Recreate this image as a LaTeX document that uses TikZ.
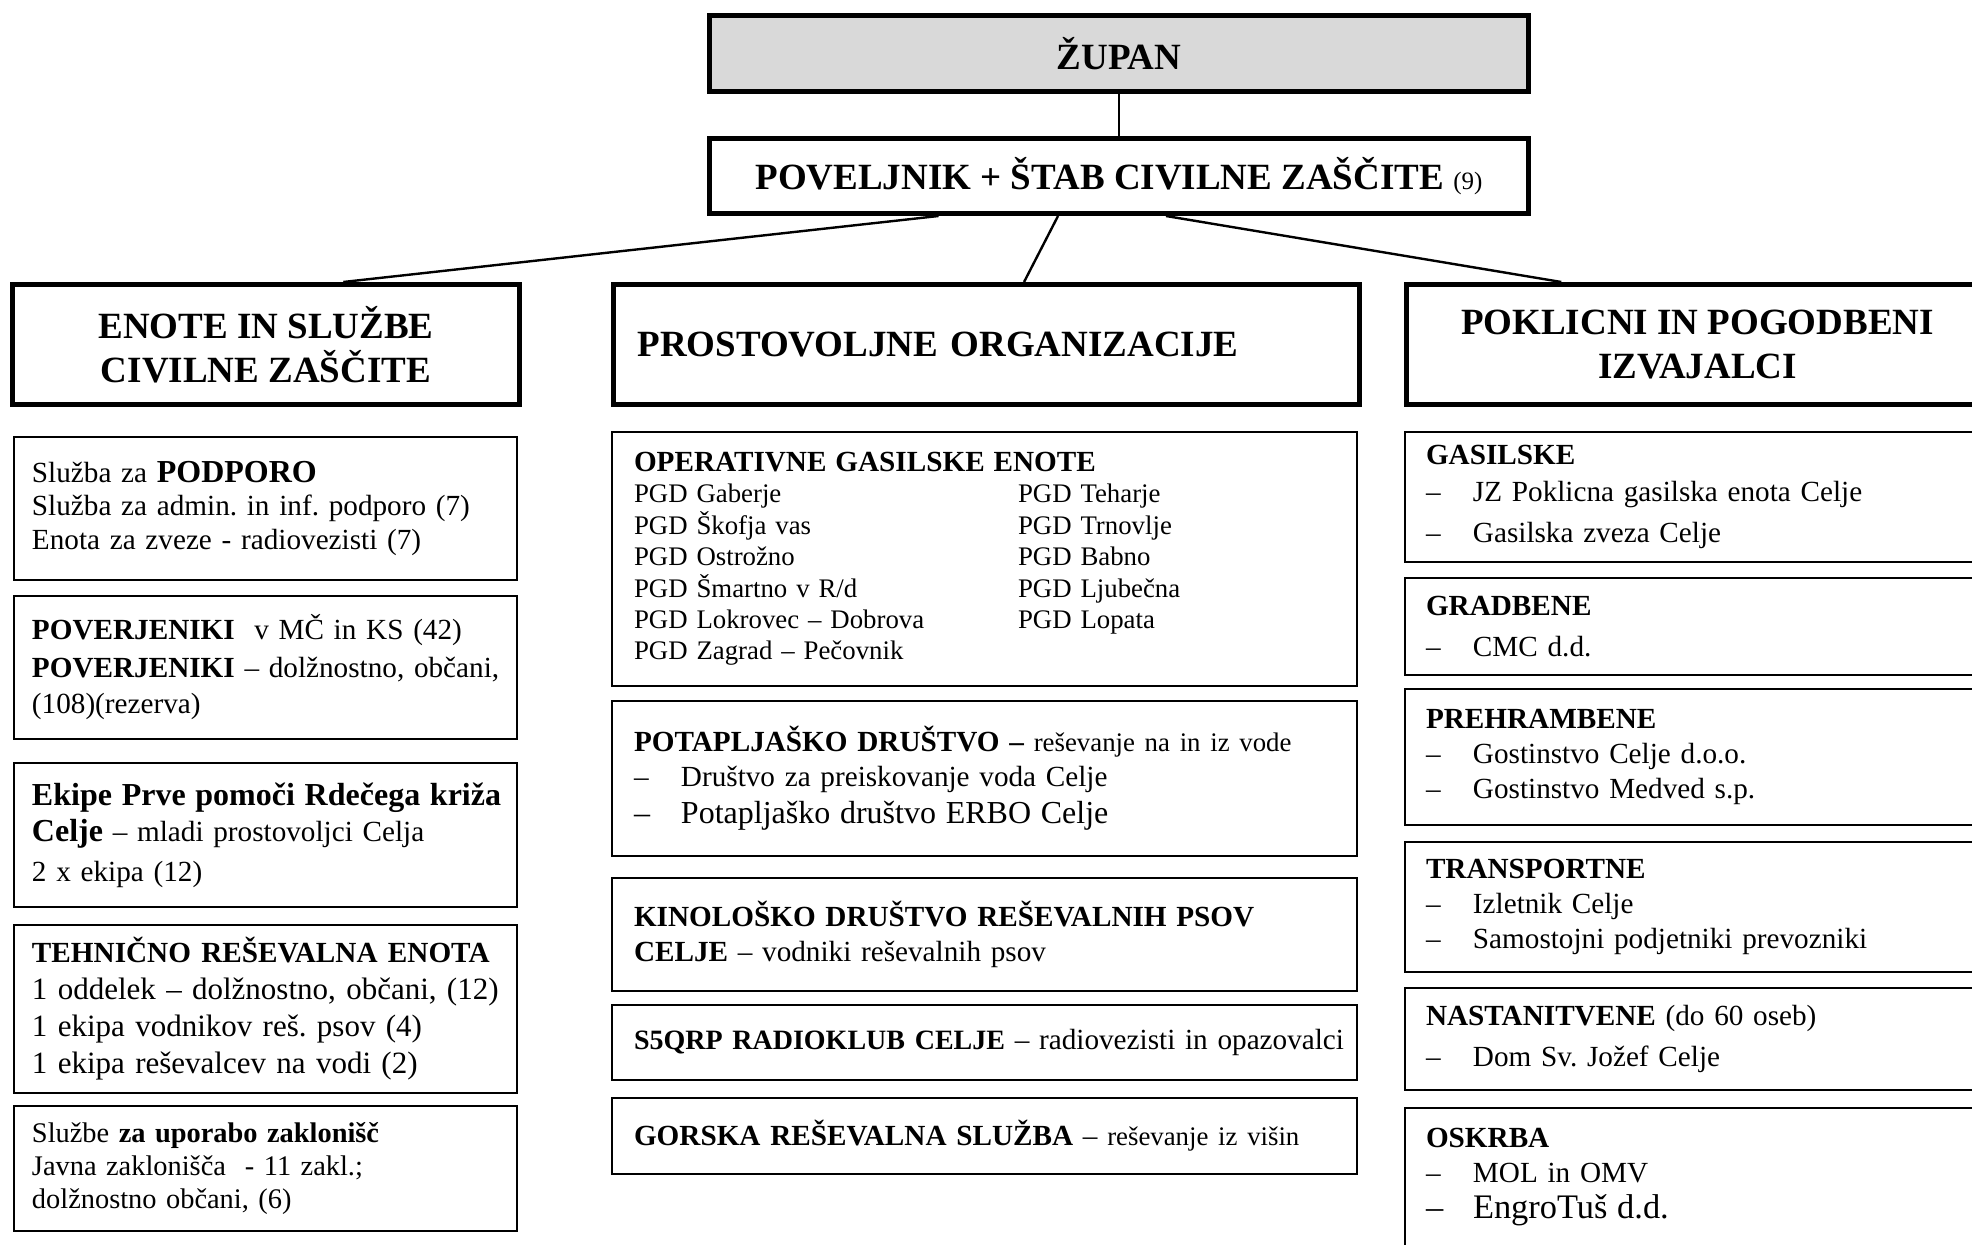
\documentclass[tikz,border=0pt]{standalone}
\usepackage{fontspec}
\setmainfont{Liberation Serif}
\usetikzlibrary{calc}
\frenchspacing

\definecolor{siva}{HTML}{D9D9D9}
\newcommand\veliko{\fontsize{16pt}{19pt}\selectfont}
\newcommand\malo{\fontsize{13.4pt}{15.7pt}\selectfont}
\newcommand\alin[1]{\makebox[23.5pt][l]{–}#1}
\newcommand\dvastolp[1]{\makebox[192pt][l]{#1}}

\tikzset{
  glava/.style={draw, line width=2.5pt, anchor=north west, inner sep=0pt,
    font=\fontsize{18.5pt}{22pt}\selectfont\bfseries},
  okvir/.style={draw, line width=1pt, anchor=north west, align=left, inner ysep=2pt,
    font=\fontsize{14.6pt}{16.7pt}\selectfont},
  levo/.style={okvir, inner xsep=9pt, text width=233.5pt},
  sredina/.style={okvir, inner xsep=11pt, text width=350.5pt},
  desno/.style={okvir, inner xsep=10.5pt, text width=270pt,
    font=\fontsize{14.6pt}{17.6pt}\selectfont},
  vez/.style={line width=1.2pt}
}

\begin{document}
\begin{tikzpicture}[x=0.5pt, y=-0.5pt]
\useasboundingbox (0,0) rectangle (1972,1245);
\clip (0,0) rectangle (1972,1245);

\node[glava, fill=siva, minimum width=409.5pt, minimum height=38pt] (zupan) at (707,13) {ŽUPAN};
\node[glava, minimum width=409.5pt, minimum height=37.5pt] (poveljnik) at (707,136)
  {POVELJNIK + ŠTAB CIVILNE ZAŠČITE {\fontsize{12.5pt}{14pt}\selectfont\mdseries (9)}};

\node[glava, minimum width=253.5pt, minimum height=60pt, align=center] (enote) at (10,282)
  {ENOTE IN SLUŽBE\\CIVILNE ZAŠČITE};
\node[glava, minimum height=60pt, inner xsep=12pt, text width=349pt, align=left] (prostovoljne) at (611,282)
  {PROSTOVOLJNE ORGANIZACIJE};
\node[glava, minimum width=291pt, minimum height=60pt, align=center] (poklicni) at (1404,282)
  {POKLICNI IN POGODBENI\\IZVAJALCI};

\draw[vez] (zupan) -- (poveljnik);
\draw[vez] ($(poveljnik.south west)!0.281!(poveljnik.south east)$) -- ($(enote.north west)!0.651!(enote.north east)$);
\draw[vez] ($(poveljnik.south west)!0.426!(poveljnik.south east)$) -- ($(prostovoljne.north west)!0.55!(prostovoljne.north east)$);
\draw[vez] ($(poveljnik.south west)!0.557!(poveljnik.south east)$) -- ($(poklicni.north west)!0.268!(poklicni.north east)$);

% enote in sluzbe
\node[levo, minimum height=71.5pt] (l1) at (13,436)
  {Služba za {\veliko\bfseries PODPORO}\\
   Služba za admin. in inf. podporo (7)\\
   Enota za zveze - radiovezisti (7)};
\node[levo, minimum height=71.5pt, font=\fontsize{14.6pt}{18pt}\selectfont] (l2) at (13,595)
  {\textbf{POVERJENIKI}\ \ v MČ in KS (42)\\[1pt]
   \mbox{\textbf{POVERJENIKI} – dolžnostno, občani,}\\
   (108)(rezerva)};
\node[levo, minimum height=72pt, font=\fontsize{14.6pt}{18pt}\selectfont] (l3) at (13,762)
  {\mbox{\veliko\bfseries Ekipe Prve pomoči Rdečega križa}\\
   {\veliko\bfseries Celje} – mladi prostovoljci Celja\\[2pt]
   2 x ekipa (12)};
\node[levo, minimum height=84pt, font=\fontsize{15.5pt}{18.5pt}\selectfont] (l4) at (13,924)
  {{\fontsize{14.6pt}{18pt}\selectfont\bfseries TEHNIČNO REŠEVALNA ENOTA}\\
   \mbox{1 oddelek – dolžnostno, občani, (12)}\\
   1 ekipa vodnikov reš. psov (4)\\
   1 ekipa reševalcev na vodi (2)};
\node[levo, minimum height=62.5pt, font=\fontsize{14.2pt}{16.4pt}\selectfont] (l5) at (13,1105)
  {Službe \textbf{za uporabo zaklonišč}\\
   Javna zaklonišča\ \ - 11 zakl.;\\
   dolžnostno občani, (6)};

% prostovoljne organizacije
\node[sredina, minimum height=127pt, font=\malo] (m1) at (611,431)
  {{\fontsize{14.6pt}{15.7pt}\selectfont\bfseries OPERATIVNE GASILSKE ENOTE}\\
   \dvastolp{PGD Gaberje}PGD Teharje\\
   \dvastolp{PGD Škofja vas}PGD Trnovlje\\
   \dvastolp{PGD Ostrožno}PGD Babno\\
   \dvastolp{PGD Šmartno v R/d}PGD Ljubečna\\
   \dvastolp{PGD Lokrovec – Dobrova}PGD Lopata\\
   PGD Zagrad – Pečovnik};
\node[sredina, minimum height=77.5pt, font=\fontsize{14.6pt}{17.5pt}\selectfont] (m2) at (611,700)
  {\mbox{\textbf{POTAPLJAŠKO DRUŠTVO –} {\malo reševanje na in iz vode}}\\
   \alin{Društvo za preiskovanje voda Celje}\\[1pt]
   {\veliko\alin{Potapljaško društvo ERBO Celje}}};
\node[sredina, minimum height=56.5pt, font=\fontsize{14.6pt}{17.6pt}\selectfont] (m3) at (611,877)
  {\textbf{KINOLOŠKO DRUŠTVO REŠEVALNIH PSOV}\\
   \textbf{CELJE} – vodniki reševalnih psov};
\node[sredina, minimum height=37.5pt] (m4) at (611,1004)
  {\mbox{{\fontsize{14pt}{16.7pt}\selectfont\bfseries S5QRP RADIOKLUB CELJE} – radiovezisti in opazovalci}};
\node[sredina, minimum height=38pt] (m5) at (611,1097)
  {\textbf{GORSKA REŠEVALNA SLUŽBA} – {\malo reševanje iz višin}};

% poklicni in pogodbeni izvajalci
\node[desno, minimum height=65pt] (r1) at (1404,431)
  {\textbf{GASILSKE}\\[1pt]
   \alin{JZ Poklicna gasilska enota Celje}\\[3pt]
   \alin{Gasilska zveza Celje}};
\node[desno, minimum height=48.5pt] (r2) at (1404,577)
  {\textbf{GRADBENE}\\[3pt]
   \alin{CMC d.d.}};
\node[desno, minimum height=68pt] (r3) at (1404,688)
  {\textbf{PREHRAMBENE}\\
   \alin{Gostinstvo Celje d.o.o.}\\
   \alin{Gostinstvo Medved s.p.}};
\node[desno, minimum height=65pt] (r4) at (1404,841)
  {\textbf{TRANSPORTNE}\\
   \alin{Izletnik Celje}\\
   \alin{Samostojni podjetniki prevozniki}};
\node[desno, minimum height=51pt] (r5) at (1404,987)
  {\textbf{NASTANITVENE} (do 60 oseb)\\[3pt]
   \alin{Dom Sv. Jožef Celje}};
\node[desno, minimum height=69pt] (r6) at (1404,1107)
  {\textbf{OSKRBA}\\
   \alin{MOL in OMV}\\
   {\fontsize{17.2pt}{20pt}\selectfont\alin{EngroTuš d.d.}}};
\end{tikzpicture}
\end{document}
